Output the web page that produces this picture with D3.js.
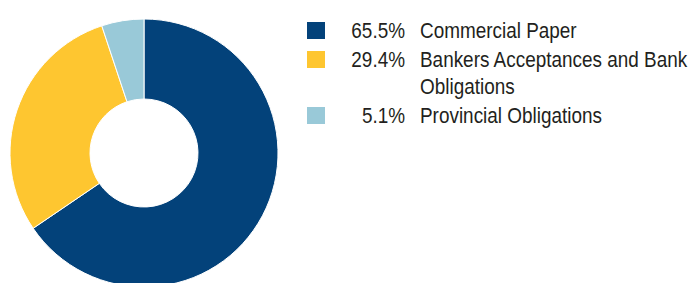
<!DOCTYPE html>
<html>
<head>
<meta charset="utf-8">
<script src="https://cdn.jsdelivr.net/npm/d3@7"></script>
<style>
  body { margin: 0; background: #fff; }
  svg { display: block; }
</style>
</head>
<body>
<div id="chart"></div>
<script>
// ************************** data **************************
const categories = ["Commercial Paper", "Bankers Acceptances and Bank Obligations", "Provincial Obligations"];
const values = [65.5, 29.4, 5.1];
const colors = ["#03427a", "#fec630", "#99c9d8"];
// legend text lines (wrapped like the original)
const labelLines = [["Commercial Paper"], ["Bankers Acceptances and Bank", "Obligations"], ["Provincial Obligations"]];

function DonutChart(
  data,
  {
    width = 692,
    height = 283,
    cx = 144, // donut centre
    cy = 153,
    outerRadius = 134,
    innerRadius = 54,
    legendX = 307, // left edge of legend swatches
    legendY = 22, // top of the first swatch
    swatch = 18,
    rowHeight = 29, // distance between legend rows
    wrapHeight = 27, // extra distance for a wrapped line
    fontSize = 21.5,
    squeeze = 0.88, // horizontal condensing of the text (no narrow font here)
  } = {}
) {
  const svg_holder = d3
    .create("svg")
    .attr("width", width)
    .attr("height", height);

  const color = d3.scaleOrdinal(categories, colors);

  const pie = d3
    .pie()
    .sort(null)
    .value((d) => d.value);

  const arc = d3.arc().innerRadius(innerRadius).outerRadius(outerRadius);

  const donut = svg_holder
    .append("g")
    .attr("transform", `translate(${cx},${cy})`);

  donut
    .selectAll("path")
    .data(pie(data))
    .join("path")
    .attr("fill", (d) => color(d.data.name))
    .attr("stroke", "#fff")
    .attr("stroke-width", 1)
    .attr("d", arc);

  // legend
  const font = "'Liberation Sans', Arial, sans-serif";
  let y = legendY;
  const legend = svg_holder.append("g");
  data.forEach((d, i) => {
    const g = legend.append("g").attr("transform", `translate(0,${y})`);
    g.append("rect")
      .attr("x", legendX)
      .attr("y", 0)
      .attr("width", swatch)
      .attr("height", swatch - 1)
      .attr("fill", color(d.name));
    g.append("text")
      .attr("transform", `translate(405,16) scale(${squeeze},1)`)
      .attr("text-anchor", "end")
      .attr("font-family", font)
      .attr("font-size", fontSize)
      .attr("fill", "#231f20")
      .text(d3.format(".1f")(d.value) + "%");
    const t = g
      .append("text")
      .attr("transform", `translate(420,16) scale(${squeeze},1)`)
      .attr("font-family", font)
      .attr("font-size", fontSize)
      .attr("fill", "#231f20");
    labelLines[i].forEach((line, j) => {
      t.append("tspan")
        .attr("x", 0)
        .attr("dy", j === 0 ? 0 : wrapHeight)
        .text(line);
    });
    y += rowHeight + (labelLines[i].length - 1) * wrapHeight;
  });

  return svg_holder.node();
}

const data = categories.map((name, i) => ({ name, value: values[i] }));
const svg_donut = DonutChart(data);
d3.select("#chart").node().appendChild(svg_donut);
</script>
</body>
</html>
